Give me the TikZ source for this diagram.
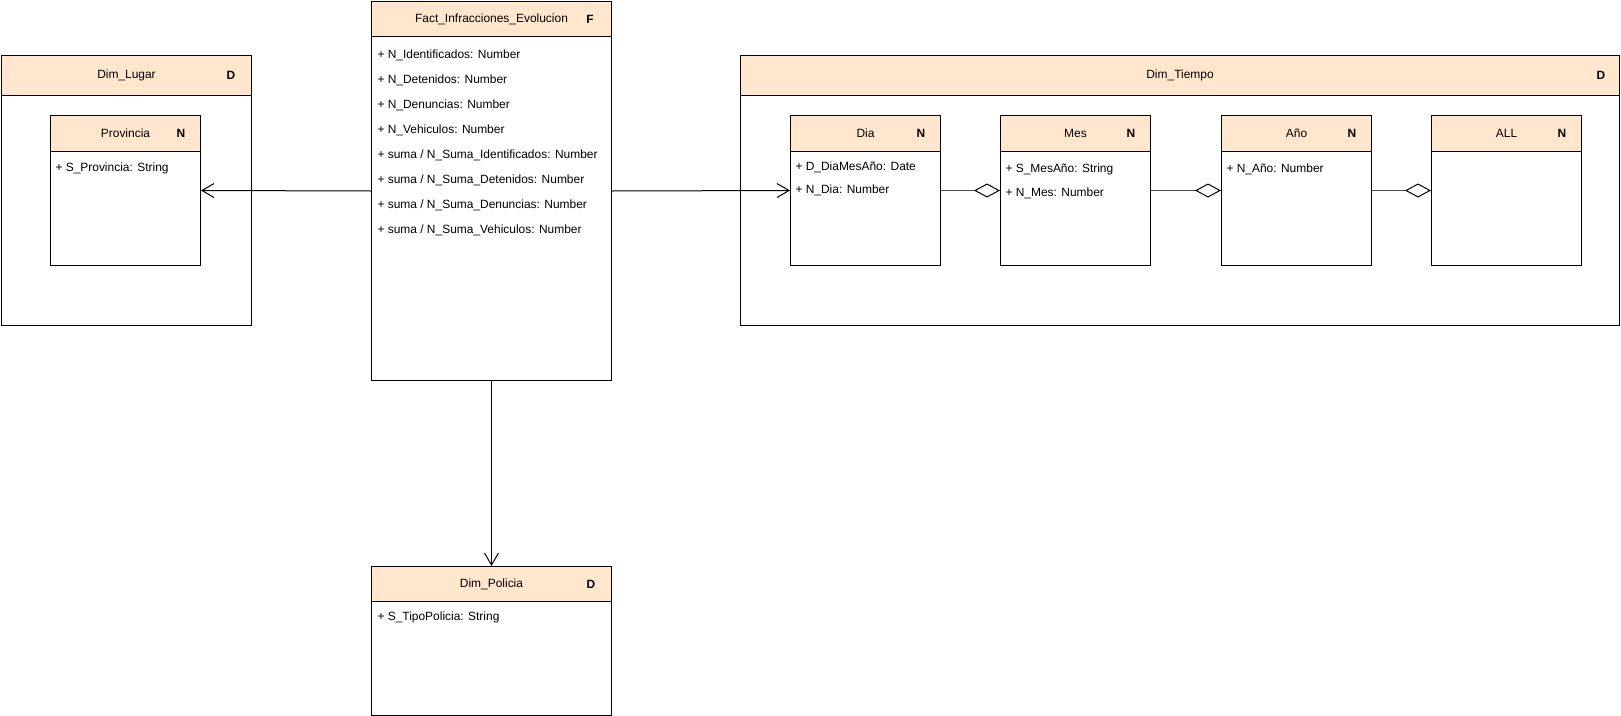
\documentclass[tikz,border=0pt]{standalone}
\usepackage{fontspec}
\setmainfont{Liberation Sans}
\usetikzlibrary{arrows.meta}

\begin{document}
\begin{tikzpicture}[x=1bp,y=-1bp,line width=1bp,font=\fontsize{12}{14}\selectfont,
  box/.style={draw,fill=white,anchor=north west,inner sep=0pt},
  head/.style={box,fill=headfill},
  attr/.style={anchor=west,inner sep=0pt},
  kind/.style={font=\fontsize{12}{14}\selectfont\bfseries},
  usa/.style={-{Straight Barb[length=12bp,width=14bp]}},
  agrega/.style={draw=black!70,-{Diamond[fill=white,color=black,length=26bp,width=14bp]}}]
\definecolor{headfill}{RGB}{255,230,204}
\useasboundingbox (0,0) rectangle (1621,716);
% hecho
\node[box,minimum width=240bp,minimum height=379bp] (fact) at (371,1) {};
\node[head,minimum width=240bp,minimum height=35bp] (facth) at (371,1) {};
\node (factt) at (facth.center) {Fact\_Infracciones\_Evolucion};
\node[kind] (factk) at ([xshift=-22bp]facth.east) {F};
\foreach \t [count=\i] in {N\_Identificados: Number,N\_Detenidos: Number,
    N\_Denuncias: Number,N\_Vehiculos: Number,suma / N\_Suma\_Identificados: Number,
    suma / N\_Suma\_Detenidos: Number,suma / N\_Suma\_Denuncias: Number,
    suma / N\_Suma\_Vehiculos: Number}
  \node[attr] (fa\i) at (377,30+25*\i) {+ \t};
% Dim_Lugar
\node[box,minimum width=250bp,minimum height=270bp] (lugar) at (1,55) {};
\node[head,minimum width=250bp,minimum height=40bp] (lugarh) at (1,55) {};
\node (lugart) at (lugarh.center) {Dim\_Lugar};
\node[kind] (lugark) at ([xshift=-21bp]lugarh.east) {D};
\node[box,minimum width=150bp,minimum height=150bp] (prov) at (50,115) {};
\node[head,minimum width=150bp,minimum height=36bp] (provh) at (50,115) {};
\node (provt) at (provh.center) {Provincia};
\node[kind] (provk) at ([xshift=-20bp]provh.east) {N};
\node[attr] (pa1) at (55,168) {+ S\_Provincia: String};
% Dim_Tiempo
\node[box,minimum width=879bp,minimum height=270bp] (tiempo) at (740,55) {};
\node[head,minimum width=879bp,minimum height=40bp] (tiempoh) at (740,55) {};
\node (tiempot) at (tiempoh.center) {Dim\_Tiempo};
\node[kind] (tiempok) at ([xshift=-19bp]tiempoh.east) {D};
\node[box,minimum width=150bp,minimum height=150bp] (dia) at (790,115) {};
\node[head,minimum width=150bp,minimum height=36bp] (diah) at (790,115) {};
\node (diat) at (diah.center) {Dia};
\node[kind] (diak) at ([xshift=-20bp]diah.east) {N};
\node[attr] (da1) at (795,167) {+ D\_DiaMesAño: Date};
\node[attr] (da2) at (795,190) {+ N\_Dia: Number};
\node[box,minimum width=150bp,minimum height=150bp] (mes) at (1000,115) {};
\node[head,minimum width=150bp,minimum height=36bp] (mesh) at (1000,115) {};
\node (mest) at (mesh.center) {Mes};
\node[kind] (mesk) at ([xshift=-20bp]mesh.east) {N};
\node[attr] (ma1) at (1005,169) {+ S\_MesAño: String};
\node[attr] (ma2) at (1005,193) {+ N\_Mes: Number};
\node[box,minimum width=150bp,minimum height=150bp] (anio) at (1221,115) {};
\node[head,minimum width=150bp,minimum height=36bp] (anioh) at (1221,115) {};
\node (aniot) at (anioh.center) {Año};
\node[kind] (aniok) at ([xshift=-20bp]anioh.east) {N};
\node[attr] (aa1) at (1226,169) {+ N\_Año: Number};
\node[box,minimum width=150bp,minimum height=150bp] (todo) at (1431,115) {};
\node[head,minimum width=150bp,minimum height=36bp] (todoh) at (1431,115) {};
\node (todot) at (todoh.center) {ALL};
\node[kind] (todok) at ([xshift=-20bp]todoh.east) {N};
% Dim_Policia
\node[box,minimum width=240bp,minimum height=149bp] (poli) at (371,566) {};
\node[head,minimum width=240bp,minimum height=35bp] (polih) at (371,566) {};
\node (polit) at (polih.center) {Dim\_Policia};
\node[kind] (polik) at ([xshift=-21bp]polih.east) {D};
\node[attr] (pla1) at (377,617) {+ S\_TipoPolicia: String};
% relaciones
\draw[usa] (fact.west) -- (prov.east);
\draw[usa] (fact.east) -- (dia.west);
\draw[usa] (fact.south) -- (polih.north);
\draw[agrega] (dia.east) -- (mes.west);
\draw[agrega] (mes.east) -- (anio.west);
\draw[agrega] (anio.east) -- (todo.west);
\end{tikzpicture}
\end{document}
